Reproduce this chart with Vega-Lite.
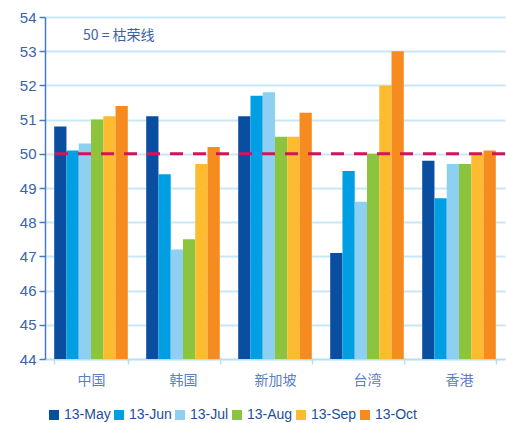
{
  "$schema": "https://vega.github.io/schema/vega-lite/v6.json",
  "autosize": "none",
  "width": 460,
  "height": 342,
  "padding": {"left": 45, "top": 17, "right": 1, "bottom": 64},
  "background": "white",
  "config": {
    "view": {"stroke": null},
    "font": "Liberation Sans",
    "axisY": {"tickCount": 10}
  },
  "layer": [
    {
      "data": {
        "values": [
          {"country": "中国", "month": "13-May", "value": 50.8},
          {"country": "中国", "month": "13-Jun", "value": 50.1},
          {"country": "中国", "month": "13-Jul", "value": 50.3},
          {"country": "中国", "month": "13-Aug", "value": 51.0},
          {"country": "中国", "month": "13-Sep", "value": 51.1},
          {"country": "中国", "month": "13-Oct", "value": 51.4},
          {"country": "韩国", "month": "13-May", "value": 51.1},
          {"country": "韩国", "month": "13-Jun", "value": 49.4},
          {"country": "韩国", "month": "13-Jul", "value": 47.2},
          {"country": "韩国", "month": "13-Aug", "value": 47.5},
          {"country": "韩国", "month": "13-Sep", "value": 49.7},
          {"country": "韩国", "month": "13-Oct", "value": 50.2},
          {"country": "新加坡", "month": "13-May", "value": 51.1},
          {"country": "新加坡", "month": "13-Jun", "value": 51.7},
          {"country": "新加坡", "month": "13-Jul", "value": 51.8},
          {"country": "新加坡", "month": "13-Aug", "value": 50.5},
          {"country": "新加坡", "month": "13-Sep", "value": 50.5},
          {"country": "新加坡", "month": "13-Oct", "value": 51.2},
          {"country": "台湾", "month": "13-May", "value": 47.1},
          {"country": "台湾", "month": "13-Jun", "value": 49.5},
          {"country": "台湾", "month": "13-Jul", "value": 48.6},
          {"country": "台湾", "month": "13-Aug", "value": 50.0},
          {"country": "台湾", "month": "13-Sep", "value": 52.0},
          {"country": "台湾", "month": "13-Oct", "value": 53.0},
          {"country": "香港", "month": "13-May", "value": 49.8},
          {"country": "香港", "month": "13-Jun", "value": 48.7},
          {"country": "香港", "month": "13-Jul", "value": 49.7},
          {"country": "香港", "month": "13-Aug", "value": 49.7},
          {"country": "香港", "month": "13-Sep", "value": 50.0},
          {"country": "香港", "month": "13-Oct", "value": 50.1}
        ]
      },
      "mark": {"type": "bar"},
      "encoding": {
        "x": {
          "field": "country",
          "type": "nominal",
          "sort": ["中国", "韩国", "新加坡", "台湾", "香港"],
          "scale": {"domain": ["中国", "韩国", "新加坡", "台湾", "香港"], "paddingInner": 0.2, "paddingOuter": 0.1},
          "axis": {
            "title": null,
            "labelAngle": 0,
            "labelFont": "Noto Sans CJK SC",
            "labelFontSize": 14,
            "labelColor": "#5b80c2",
            "labelPadding": 9,
            "tickBand": "extent",
            "tickSize": 5,
            "tickColor": "#b9def3",
            "tickWidth": 1.5,
            "domainColor": "#b9def3",
            "domainWidth": 1.5,
            "grid": false
          }
        },
        "xOffset": {
          "field": "month",
          "type": "nominal",
          "sort": ["13-May", "13-Jun", "13-Jul", "13-Aug", "13-Sep", "13-Oct"],
          "scale": {"paddingInner": 0, "paddingOuter": 0}
        },
        "y": {
          "field": "value",
          "type": "quantitative",
          "scale": {"domain": [44, 54], "zero": false, "nice": false},
          "axis": {
            "title": null,
            "tickCount": 10,
            "labelOverlap": false,
            "labelFontSize": 15,
            "labelColor": "#3b63a8",
            "labelPadding": 3,
            "tickSize": 6,
            "tickColor": "#4a7bbf",
            "tickWidth": 1.5,
            "domainColor": "#4a7bbf",
            "domainWidth": 1.5,
            "grid": true,
            "gridColor": "#c8e8f8",
            "gridWidth": 2
          }
        },
        "y2": {"datum": 44},
        "color": {
          "field": "month",
          "type": "nominal",
          "sort": ["13-May", "13-Jun", "13-Jul", "13-Aug", "13-Sep", "13-Oct"],
          "scale": {
            "domain": ["13-May", "13-Jun", "13-Jul", "13-Aug", "13-Sep", "13-Oct"],
            "range": ["#0a4ea2", "#009fe3", "#8dd0f2", "#8cc43e", "#fdbb30", "#f68b1f"]
          },
          "legend": {
            "title": null,
            "orient": "none",
            "direction": "horizontal",
            "columns": 6,
            "legendX": 2,
            "legendY": 391,
            "symbolType": "square",
            "symbolSize": 100,
            "symbolStrokeWidth": 0,
            "labelFontSize": 14,
            "labelColor": "#1d4f9c",
            "labelOffset": 3,
            "columnPadding": 1
          }
        }
      }
    },
    {
      "data": {"values": [{"level": 50}]},
      "mark": {"type": "rule", "color": "#d4145a", "strokeWidth": 3, "strokeDash": [13, 10]},
      "encoding": {
        "y": {"field": "level", "type": "quantitative"}
      }
    },
    {
      "data": {"values": [{"country": "中国", "pos": 53.45, "label": "50 = 枯荣线"}]},
      "mark": {"type": "text", "align": "left", "baseline": "middle", "dx": -8, "fontSize": 14, "color": "#3b63a8", "font": "Noto Sans CJK SC"},
      "encoding": {
        "x": {"field": "country", "type": "nominal"},
        "y": {"field": "pos", "type": "quantitative"},
        "text": {"field": "label", "type": "nominal"}
      }
    }
  ]
}
